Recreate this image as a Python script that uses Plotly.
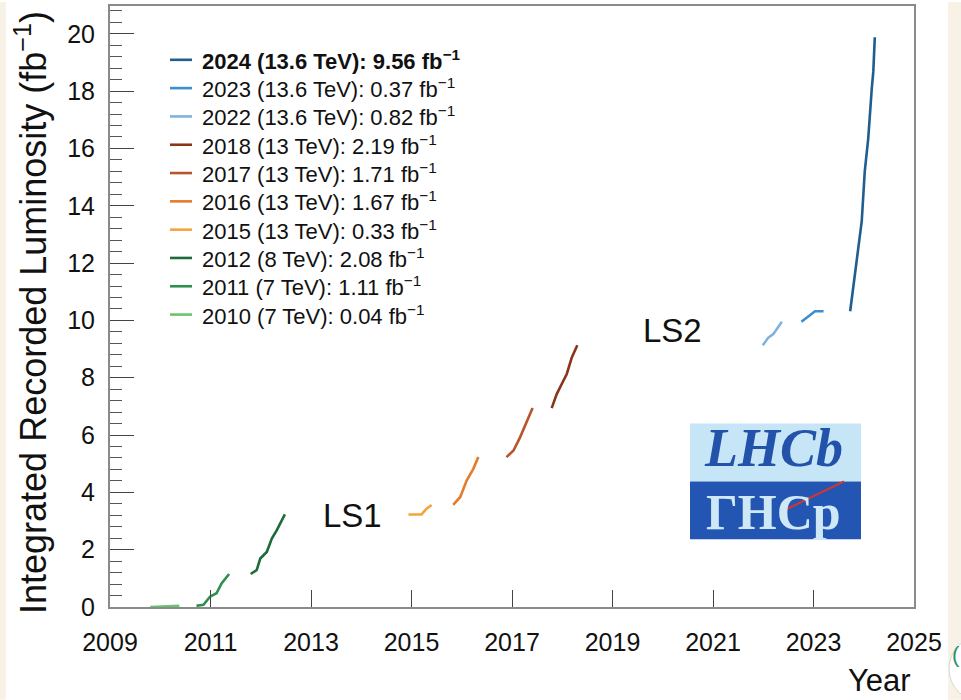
import plotly.graph_objects as go

# Cumulative recorded luminosity per run year: decimal year vs. integrated fb^-1
x_2010 = [2009.80, 2010.00, 2010.20, 2010.38]
y_2010 = [0.00, 0.01, 0.02, 0.04]
x_2011 = [2010.72, 2010.86, 2010.99, 2011.12, 2011.22, 2011.37]
y_2011 = [0.04, 0.08, 0.36, 0.48, 0.82, 1.15]
x_2012 = [2011.80, 2011.92, 2011.99, 2012.12, 2012.22, 2012.32, 2012.48]
y_2012 = [1.15, 1.29, 1.69, 1.92, 2.39, 2.68, 3.23]
x_2015 = [2014.94, 2015.20, 2015.30, 2015.40]
y_2015 = [3.23, 3.23, 3.43, 3.56]
x_2016 = [2015.83, 2015.97, 2016.10, 2016.23, 2016.33]
y_2016 = [3.56, 3.84, 4.42, 4.82, 5.23]
x_2017 = [2016.89, 2017.03, 2017.16, 2017.29, 2017.41]
y_2017 = [5.23, 5.46, 5.92, 6.45, 6.94]
x_2018 = [2017.79, 2017.89, 2017.99, 2018.09, 2018.19, 2018.30]
y_2018 = [6.94, 7.43, 7.78, 8.13, 8.71, 9.13]
x_2022 = [2021.99, 2022.10, 2022.20, 2022.37]
y_2022 = [9.13, 9.40, 9.52, 9.95]
x_2023 = [2022.76, 2022.90, 2023.03, 2023.20]
y_2023 = [9.95, 10.15, 10.32, 10.32]
x_2024 = [2023.73, 2023.79, 2023.87, 2023.96, 2024.02, 2024.09, 2024.16, 2024.19, 2024.22]
y_2024 = [10.32, 11.14, 12.30, 13.46, 15.20, 16.36, 18.10, 18.68, 19.88]

years = ["2010", "2011", "2012", "2015", "2016", "2017", "2018", "2022", "2023", "2024"]
energies = ["7 TeV", "7 TeV", "8 TeV", "13 TeV", "13 TeV", "13 TeV", "13 TeV",
            "13.6 TeV", "13.6 TeV", "13.6 TeV"]
lumi_per_year = ["0.04", "1.11", "2.08", "0.33", "1.67", "1.71", "2.19", "0.82", "0.37", "9.56"]
colors = ["#6cc36e", "#2f8f4e", "#1d6a3a", "#f5a43c", "#e47c2c", "#b9552a", "#8a3418",
          "#7fb2dc", "#3b8ed0", "#1f5e8e"]
series_x = [x_2010, x_2011, x_2012, x_2015, x_2016, x_2017, x_2018, x_2022, x_2023, x_2024]
series_y = [y_2010, y_2011, y_2012, y_2015, y_2016, y_2017, y_2018, y_2022, y_2023, y_2024]

x_ticks = [2009, 2011, 2013, 2015, 2017, 2019, 2021, 2023, 2025]
y_ticks = [0, 2, 4, 6, 8, 10, 12, 14, 16, 18, 20]

W, H = 961, 700
L, R, T, B = 110, 914, 4, 607
FONT = "Liberation Sans, Arial, Helvetica, sans-serif"
SERIF = "Liberation Serif, Times New Roman, serif"


def px(xp):
    return (xp - L) / (R - L)


def py(yp):
    return (B - yp) / (B - T)


def label(x, y, text, size, xanchor="center", yanchor="middle", family=FONT,
          color="#111", angle=0):
    return dict(xref="paper", yref="paper", x=px(x), y=py(y), text=text, textangle=angle,
                showarrow=False, xanchor=xanchor, yanchor=yanchor,
                font=dict(family=family, size=size, color=color))


fig = go.Figure()
for yr, xs, ys, col in zip(years, series_x, series_y, colors):
    fig.add_trace(go.Scatter(x=xs, y=ys, mode="lines", name=yr,
                             line=dict(color=col, width=2.6), showlegend=False))

shapes = []
annotations = []

# hand-placed legend, newest run on top
row0, row_gap = 58, 28.4
for i, idx in enumerate(range(len(years) - 1, -1, -1)):
    yy = row0 + i * row_gap
    text = f"{years[idx]} ({energies[idx]}): {lumi_per_year[idx]} fb<sup>−1</sup>"
    if i == 0:
        text = f"<b>{text}</b>"
    shapes.append(dict(type="line", xref="paper", yref="paper",
                       x0=px(170), x1=px(192), y0=py(yy), y1=py(yy),
                       line=dict(color=colors[idx], width=2.6)))
    annotations.append(label(200, yy, text, 22, xanchor="left"))

# long shutdown labels
annotations.append(label(352, 515, "LS1", 33))
annotations.append(label(672, 330, "LS2", 33))

# axis titles
annotations.append(label(31, 312, "Integrated Recorded Luminosity (fb<sup>−1</sup>)", 36, angle=-90))
annotations.append(label(913, 681, "Year", 31, xanchor="right"))

# experiment logo
shapes.append(dict(type="rect", xref="paper", yref="paper", x0=px(690), x1=px(861),
                   y0=py(481), y1=py(423), fillcolor="#c6e6f7", line=dict(width=0), layer="above"))
shapes.append(dict(type="rect", xref="paper", yref="paper", x0=px(690), x1=px(861),
                   y0=py(539), y1=py(481), fillcolor="#2356b3", line=dict(width=0), layer="above"))
annotations.append(label(773, 480, "<b><i>LHCb</i></b>", 54, yanchor="bottom",
                         family=SERIF, color="#2352aa"))
annotations.append(label(773, 482, "<b>ΓHCp</b>", 50, yanchor="top",
                         family=SERIF, color="#cfe8f6"))
shapes.append(dict(type="line", xref="paper", yref="paper", x0=px(780), x1=px(844),
                   y0=py(512), y1=py(481), line=dict(color="#d9342e", width=2), layer="above"))

# page border strips and corner badge
shapes.append(dict(type="rect", xref="paper", yref="paper", x0=px(0), x1=px(6), y0=py(H), y1=py(0),
                   fillcolor="#f8f1e6", line=dict(width=0), layer="below"))
shapes.append(dict(type="rect", xref="paper", yref="paper", x0=px(948), x1=px(W), y0=py(H), y1=py(0),
                   fillcolor="#f8f1e6", line=dict(width=0), layer="below"))
shapes.append(dict(type="circle", xref="paper", yref="paper", x0=px(949), x1=px(1015),
                   y0=py(702), y1=py(636), fillcolor="white",
                   line=dict(color="#d8d8d8", width=1), layer="below"))
annotations.append(label(956, 655, "(", 22, color="#2f8f6e"))

fig.update_layout(
    width=W, height=H,
    margin=dict(l=L, r=W - R, t=T, b=H - B, pad=0),
    paper_bgcolor="white", plot_bgcolor="white",
    shapes=shapes, annotations=annotations,
    showlegend=False,
)
fig.update_xaxes(
    range=[2009, 2025], tickvals=x_ticks, ticktext=[str(v) for v in x_ticks],
    ticks="inside", ticklen=17, tickwidth=1.2, tickcolor="#444",
    showline=True, linecolor="#8a8a8a", linewidth=2, mirror=True,
    showgrid=False, zeroline=False, ticklabelstandoff=12,
    tickfont=dict(family=FONT, size=25, color="#111"),
)
fig.update_yaxes(
    range=[0, 20.97], tickvals=y_ticks, ticktext=[str(v) for v in y_ticks],
    ticks="inside", ticklen=24, tickwidth=1.2, tickcolor="#444",
    minor=dict(dtick=0.4, tick0=0, ticks="inside", ticklen=12, tickwidth=1, tickcolor="#555",
               showgrid=False),
    showline=True, linecolor="#8a8a8a", linewidth=2, mirror=True,
    showgrid=False, zeroline=False, ticklabelstandoff=8,
    tickfont=dict(family=FONT, size=25, color="#111"),
)

fig.write_html("out.html")
